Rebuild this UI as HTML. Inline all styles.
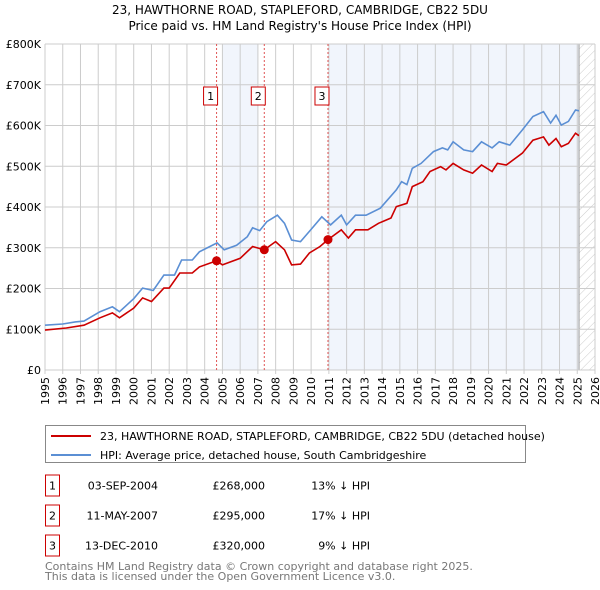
<!DOCTYPE html>
<html><head><meta charset="utf-8"><style>
body{margin:0;background:#fff;width:600px;height:590px;overflow:hidden}
svg{display:block;font-family:"DejaVu Sans","Liberation Sans",sans-serif}
</style></head><body>
<svg id="chart" width="600" height="590">
<defs><pattern id="hatch" width="6" height="6" patternUnits="userSpaceOnUse" patternTransform="rotate(45)"><line x1="0" y1="0" x2="0" y2="6" stroke="#ccc" stroke-width="1"/></pattern></defs>
<text x="300" y="14" text-anchor="middle" font-size="12">23, HAWTHORNE ROAD, STAPLEFORD, CAMBRIDGE, CB22 5DU</text>
<text x="300" y="30" text-anchor="middle" font-size="12">Price paid vs. HM Land Registry's House Price Index (HPI)</text>
<g id="plot"></g>
<g>
<rect x="45.5" y="425.5" width="480" height="37" fill="#fff" stroke="#888"/>
<line x1="51" y1="436" x2="91" y2="436" stroke="#cc0000" stroke-width="2"/>
<text x="100" y="440" font-size="11">23, HAWTHORNE ROAD, STAPLEFORD, CAMBRIDGE, CB22 5DU (detached house)</text>
<line x1="51" y1="455" x2="91" y2="455" stroke="#5b8fd4" stroke-width="2"/>
<text x="100" y="459" font-size="11">HPI: Average price, detached house, South Cambridgeshire</text>
</g>
<g id="table" font-size="11"></g>
<text x="45" y="570" font-size="11" fill="#777">Contains HM Land Registry data © Crown copyright and database right 2025.</text>
<text x="45" y="580" font-size="11" fill="#777">This data is licensed under the Open Government Licence v3.0.</text>
</svg>
<script>
const hpiYears=[1995,1996,1996.7,1997.2,1998.1,1998.8,1999.2,2000,2000.5,2001.1,2001.7,2002.3,2002.7,2003.3,2003.7,2004.7,2005.1,2005.8,2006.4,2006.7,2007.1,2007.5,2008.1,2008.5,2008.9,2009.4,2010,2010.6,2011.1,2011.7,2012,2012.5,2013.1,2013.9,2014.8,2015.1,2015.4,2015.7,2016.2,2016.9,2017.4,2017.7,2018,2018.6,2019.1,2019.6,2020.2,2020.6,2021.2,2021.9,2022.5,2023.1,2023.5,2023.8,2024.1,2024.5,2024.9,2025.1];
const hpiValues=[110,113,118,120,143,155,143,175,201,195,233,233,270,270,290,312,295,306,327,349,342,364,380,360,319,315,345,376,356,380,356,380,380,397,442,462,455,495,507,536,545,540,560,540,536,560,545,560,552,589,622,634,606,625,601,610,638,636];
const priceYears=[1995,1996.2,1997.2,1998.1,1998.8,1999.2,2000,2000.5,2001,2001.7,2002,2002.6,2003.3,2003.7,2004.67,2005,2006,2006.7,2007.36,2008,2008.5,2008.9,2009.4,2009.9,2010.5,2010.95,2011.7,2012.1,2012.5,2013.2,2013.8,2014.5,2014.8,2015.4,2015.7,2016.3,2016.7,2017.3,2017.6,2018,2018.6,2019.1,2019.6,2020.2,2020.5,2021,2021.9,2022.5,2023.1,2023.4,2023.8,2024.1,2024.5,2024.9,2025.1];
const priceValues=[98,103,110,128,140,128,152,177,168,201,201,238,238,253,268,258,274,303,295,315,295,258,260,287,303,320,344,324,344,344,360,373,401,409,450,462,487,499,491,507,491,483,503,487,507,503,532,564,572,552,568,548,556,581,575];
const saleYears=[2004.67,2007.36,2010.95];
const saleValues=[268,295,320];
const saleLabels=["1","2","3"];
const saleDates=["03-SEP-2004","11-MAY-2007","13-DEC-2010"];
const salePrices=["£268,000","£295,000","£320,000"];
const saleDiffs=["13% ↓ HPI","17% ↓ HPI","9% ↓ HPI"];
const yTicks=[0,100,200,300,400,500,600,700,800];
const yTickLabels=["£0","£100K","£200K","£300K","£400K","£500K","£600K","£700K","£800K"];
const xTicks=[1995,1996,1997,1998,1999,2000,2001,2002,2003,2004,2005,2006,2007,2008,2009,2010,2011,2012,2013,2014,2015,2016,2017,2018,2019,2020,2021,2022,2023,2024,2025,2026];

const X0=45,X1=595,Y0=370,Y1=44;
const xs=y=>X0+(y-1995)/(2026-1995)*(X1-X0);
const ys=v=>Y0-v/800*(Y0-Y1);
const NS="http://www.w3.org/2000/svg";
const plot=document.getElementById('plot');
function mk(tag,attrs,parent){const e=document.createElementNS(NS,tag);for(const k in attrs)e.setAttribute(k,attrs[k]);(parent||plot).appendChild(e);return e;}

let e;
e=mk('rect',{x:xs(2005),y:Y1,width:xs(2007)-xs(2005),height:Y0-Y1,fill:'#eef2fb',opacity:0.8});


e=mk('rect',{x:xs(2011),y:Y1,width:xs(2025.1)-xs(2011),height:Y0-Y1,fill:'#eef2fb',opacity:0.8});


e=mk('rect',{x:xs(2025.1),y:Y1,width:X1-xs(2025.1),height:Y0-Y1,fill:'url(#hatch)'});


mk('line',{x1:xs(2025.1),y1:Y1,x2:xs(2025.1),y2:Y0,stroke:'#999','stroke-width':1});

xTicks.forEach(t=>{
  const l=mk('line',{x1:xs(t),y1:Y1,x2:xs(t),y2:Y0+4,stroke:'#ccc','stroke-width':1});
  
  
  const tx=mk('text',{x:0,y:0,'font-size':11,'text-anchor':'end',transform:`translate(${xs(t)+4},${Y0+7}) rotate(-90)`});
  tx.textContent=t;
  
  
});
yTicks.forEach((t,i)=>{
  const l=mk('line',{x1:X0,y1:ys(t),x2:X1,y2:ys(t),stroke:'#ccc','stroke-width':1});
  
  
  const tx=mk('text',{x:X0-4,y:ys(t)+4,'font-size':11,'text-anchor':'end'});
  tx.textContent=yTickLabels[i];
  
  
});
saleYears.forEach((y,i)=>{
  const l=mk('line',{x1:xs(y),y1:Y1,x2:xs(y),y2:Y0,stroke:'#e05555','stroke-width':1,'stroke-dasharray':'2,2'});
  
  
  const r=mk('rect',{x:xs(y)-13,y:87,width:14,height:18,fill:'#fff',stroke:'#cc0000'});
  
  
  const t=mk('text',{x:xs(y)-6,y:100,'font-size':11,'text-anchor':'middle'});
  t.textContent=saleLabels[i];
  
  
});
let d=hpiYears.map((y,i)=>(i?'L':'M')+xs(y).toFixed(1)+','+ys(hpiValues[i]).toFixed(1)).join('');
e=mk('path',{d:d,fill:'none',stroke:'#5b8fd4','stroke-width':1.6});


d=priceYears.map((y,i)=>(i?'L':'M')+xs(y).toFixed(1)+','+ys(priceValues[i]).toFixed(1)).join('');
e=mk('path',{d:d,fill:'none',stroke:'#cc0000','stroke-width':1.6});


saleYears.forEach((y,i)=>{
  const c=mk('circle',{cx:xs(y),cy:ys(saleValues[i]),r:4.5,fill:'#cc0000'});
  
  
});

const tbl=document.getElementById('table');
saleLabels.forEach((s,i)=>{
  const cy=485.5+i*30;
  const r=mk('rect',{x:45.5,y:cy-10.5,width:14,height:21,fill:'#fff',stroke:'#cc0000'},tbl);
  
  
  const cols=[[52.5,s,'middle','table-marker-label'],[158,saleDates[i],'end','table-date'],[265,salePrices[i],'end','table-price'],[370,saleDiffs[i],'end','table-hpi-diff']];
  cols.forEach(c=>{
    const t=mk('text',{x:c[0],y:cy+4,'text-anchor':c[2]},tbl);
    t.textContent=c[1];
    
    
  });
});
</script>
</body></html>
